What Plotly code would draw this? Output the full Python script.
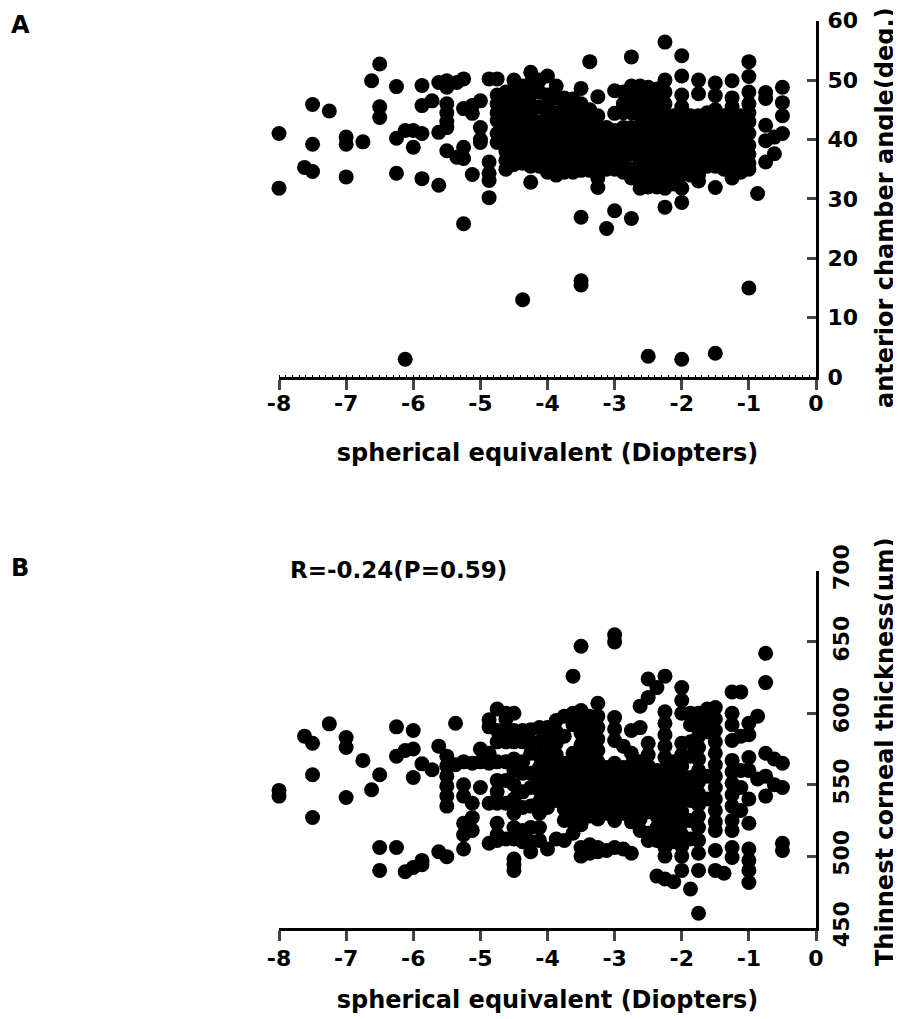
import plotly.graph_objects as go

# Panel A: (spherical equivalent, [anterior chamber angle values])
a_columns = [
    (-8, [41, 31.8]), (-7.62, [35.3]), (-7.5, [45.9, 39.2, 34.6]), (-7.25, [44.8]),
    (-7, [40.4, 39.2, 33.7]), (-6.75, [39.6]), (-6.62, [49.9]), (-6.5, [52.7, 45.5, 43.7]),
    (-6.25, [48.9, 40.2, 34.3]), (-6.12, [41.5, 3]), (-6, [41.5, 38.7]), (-5.87, [49.1, 45.7, 41, 33.4]),
    (-5.72, [46.5]), (-5.62, [49.6, 41.2, 32.3]), (-5.5, [49.9, 48.8, 46, 44.5, 43, 42, 38.1]),
    (-5.35, [49.6, 37]), (-5.25, [50.2, 45.2, 38.7, 36.8, 25.8]), (-5.12, [45.7, 44.4, 34.1]),
    (-5, [46.5, 42, 40, 39.5]), (-4.87, [50.2, 36.2, 34.3, 33.1, 30.2]),
    (-4.75, [50.2, 47.5, 46, 44.5, 43.2, 41, 39.5]),
    (-4.62, [48, 46.5, 45, 43.5, 42, 40.5, 39, 38, 36.5, 35]),
    (-4.5, [50, 48.5, 47, 45, 43, 41.5, 40, 38.5, 37, 35.8]),
    (-4.37, [49, 47, 45, 43.5, 42, 41, 40, 39, 37, 36, 13]),
    (-4.25, [51.3, 49.5, 47.5, 45.5, 44, 42, 41, 40, 39, 38, 36.5, 35.5, 32.8]),
    (-4.12, [50, 48, 45.5, 43, 41.5, 40, 38.5, 37, 35.5]),
    (-4, [50.7, 47.5, 46, 44, 42.5, 41, 40, 39, 38, 37, 35.8, 34.5]),
    (-3.87, [49, 47, 44.5, 43, 41, 40, 38, 36.5, 35, 34]),
    (-3.75, [47, 46, 44, 42, 41, 39.5, 38, 37, 36, 34.5]),
    (-3.62, [46.8, 45, 43, 41.5, 40, 39, 38, 36.5, 35, 34.5]),
    (-3.5, [48.6, 46, 44, 42.5, 41, 39.5, 38, 37, 36, 34.8, 26.9, 16.2, 15.5]),
    (-3.37, [53.1, 45, 43, 41, 40, 38.5, 37, 36, 34.8]),
    (-3.25, [47.2, 44, 42, 40.5, 39, 38, 37, 35.5, 34.5, 33.5, 31.9]),
    (-3.12, [42, 40, 38.5, 37.5, 36, 35, 25]),
    (-3, [48.2, 44.4, 41.5, 40, 39, 37, 35, 28]),
    (-2.87, [48, 46, 44.5, 42, 40.5, 39, 37, 36, 34.5]),
    (-2.75, [53.9, 49, 47.5, 46, 44.5, 42, 40.5, 39, 37.5, 35, 33.5, 26.7]),
    (-2.62, [49, 47.5, 46, 44, 42, 40, 38, 36.5, 34.5, 33, 31.8]),
    (-2.5, [48.8, 47, 45, 43, 41, 39.5, 38, 36, 34, 32, 3.5]),
    (-2.37, [48.5, 47, 45, 43, 41, 39, 37, 35, 33, 32]),
    (-2.25, [56.4, 50, 48, 46, 44, 42, 40.5, 38.5, 36.5, 34.5, 32.5, 31.8, 28.6]),
    (-2.12, [44, 42, 40, 38, 36, 34.5, 32.5]),
    (-2, [54.1, 50.7, 47.5, 45.5, 44, 42, 40, 38, 36, 34, 31.8, 29.4, 3]),
    (-1.87, [44, 42.5, 41, 39, 37, 35.5, 34]),
    (-1.75, [50, 47.7, 44, 43, 41, 39.5, 38, 36, 34, 33]),
    (-1.62, [44.5, 42.5, 40.5, 39, 37, 35.5]),
    (-1.5, [49.5, 47.4, 45, 43, 41, 39, 37, 35.5, 31.9, 4]),
    (-1.37, [44, 42, 40, 38, 36, 35]),
    (-1.25, [49.9, 47, 45.5, 44, 42.5, 41, 39.5, 38, 36, 35, 34, 33.5]),
    (-1.12, [44, 42, 40, 38, 36, 34.5]),
    (-1, [53.1, 50.6, 48, 46, 44.5, 43, 41, 39, 37.5, 36, 35, 15]),
    (-0.87, [30.9]), (-0.75, [47.9, 46.9, 42.4, 39.8, 36.2]), (-0.62, [40.4, 37.6]),
    (-0.5, [48.8, 46.2, 44, 41]),
]

# Panel B: (spherical equivalent, [thinnest corneal thickness values])
b_columns = [
    (-8, [546, 542]), (-7.62, [584]), (-7.5, [579, 557, 527]), (-7.25, [592.6]),
    (-7, [583, 576, 541]), (-6.75, [567]), (-6.62, [546.5]), (-6.5, [557, 506, 490]),
    (-6.25, [590.5, 570, 506]), (-6.12, [574, 489]), (-6, [588, 575, 555, 492]),
    (-5.87, [564.6, 497, 494]), (-5.72, [560.5]), (-5.62, [577, 503]),
    (-5.5, [570, 563, 556, 549, 542, 535, 499.6]), (-5.37, [593, 564]),
    (-5.25, [566, 550, 542, 523, 515, 505]), (-5.12, [565, 537, 527, 518]),
    (-5, [575, 566, 548]),
    (-4.87, [595.5, 590.5, 572, 565, 537, 509]),
    (-4.75, [603, 588, 580, 566, 553, 545, 537, 523, 515, 511]),
    (-4.62, [600, 596, 588, 580, 566, 553, 537, 512]),
    (-4.5, [600, 588, 580, 568, 560, 550, 540, 530, 520, 512, 498, 494, 490]),
    (-4.37, [588, 580, 566, 558, 545, 534, 518, 510]),
    (-4.25, [588.5, 580, 572, 558, 548, 535, 520, 510, 503]),
    (-4.12, [590, 580, 570, 562, 554, 546, 538, 530, 520, 511]),
    (-4, [590, 582, 574, 566, 558, 550, 542, 534, 505]),
    (-3.87, [595, 587, 579, 571, 563, 555, 547, 539, 512]),
    (-3.75, [598, 584, 565, 557, 549, 541, 533, 525, 511]),
    (-3.62, [626, 600, 592, 572, 564, 556, 548, 540, 532, 524, 516]),
    (-3.5, [647, 602, 594, 586, 578, 570, 562, 554, 546, 538, 530, 522, 506, 500]),
    (-3.37, [598, 590, 583, 575, 568, 560, 552, 544, 536, 528, 508, 502]),
    (-3.25, [607, 598, 590, 582, 574, 566, 558, 550, 542, 534, 526, 506, 503]),
    (-3.12, [562, 554, 546, 538, 530, 504]),
    (-3, [655, 650, 597, 589, 581, 565, 557, 549, 541, 533, 525, 506]),
    (-2.87, [577, 562, 554, 546, 538, 530, 505]),
    (-2.75, [588, 572, 564, 556, 548, 540, 532, 524, 502]),
    (-2.62, [605, 590, 566, 558, 550, 542, 534, 526, 518]),
    (-2.5, [624, 611, 579, 571, 563, 555, 547, 539, 531, 516, 511]),
    (-2.37, [618, 560, 552, 544, 536, 528, 520, 511, 486]),
    (-2.25, [626, 601, 593, 585, 577, 569, 561, 553, 545, 537, 529, 521, 513, 506, 500, 484]),
    (-2.12, [566, 558, 550, 542, 534, 526, 518, 510, 482]),
    (-2, [618, 609, 600, 579, 571, 563, 555, 547, 539, 531, 523, 515, 507, 500, 490]),
    (-1.87, [600, 592, 580, 570, 555, 547, 539, 525, 512, 477]),
    (-1.75, [600, 592, 584, 576, 568, 560, 552, 544, 536, 528, 520, 511, 502, 490, 460]),
    (-1.62, [603, 595, 587, 556, 540]),
    (-1.5, [604, 596, 588, 580, 572, 564, 556, 548, 540, 532, 524, 518, 504, 490]),
    (-1.37, [488]),
    (-1.25, [615, 600, 592, 581, 567, 559, 551, 543, 535, 525, 518, 506, 499]),
    (-1.12, [615, 584, 560, 548, 532]),
    (-1, [593, 585, 569, 560, 540, 523, 505, 497, 490, 481.5]),
    (-0.87, [598, 554]),
    (-0.75, [642, 621.5, 572, 556, 542]),
    (-0.62, [568, 550]),
    (-0.5, [565, 548, 509, 504]),
]

x_ticks = [-8, -7, -6, -5, -4, -3, -2, -1, 0]
x_labels = ["-8", "-7", "-6", "-5", "-4", "-3", "-2", "-1", "0"]
a_y_ticks = [0, 10, 20, 30, 40, 50, 60]
b_y_ticks = [450, 500, 550, 600, 650, 700]
x_title = "spherical equivalent (Diopters)"
a_y_title = "anterior chamber angle(deg.)"
b_y_title = "Thinnest corneal thickness(µm)"
b_note = "R=-0.24(P=0.59)"

FONT = "DejaVu Sans"
# The page keeps an 8 px body margin, so the figure fills 893x1011 of the 901x1019 window.
PAGE = 8
W, H = 901 - PAGE, 1019 - PAGE


def fx(px):
    return (px - PAGE) / W


def fy(py):
    return 1 - (py - PAGE) / H


def flat(columns):
    xs, ys = [], []
    for x, vals in columns:
        for v in vals:
            xs.append(x)
            ys.append(v)
    return xs, ys


fig = go.Figure()
for cols, xa, ya in ((a_columns, "x", "y"), (b_columns, "x2", "y2")):
    xs, ys = flat(cols)
    fig.add_trace(go.Scatter(x=xs, y=ys, mode="markers", xaxis=xa, yaxis=ya, cliponaxis=False,
                             marker=dict(color="black", size=15, line=dict(width=0)), showlegend=False))


def xaxis(anchor, minor, standoff, title_standoff):
    d = dict(range=[-8, 0], domain=[fx(279), fx(816)], anchor=anchor, tickmode="array",
             tickvals=x_ticks, ticktext=x_labels, ticks="outside", ticklen=10, tickwidth=3,
             automargin=False, showline=True, linecolor="black", linewidth=3, showgrid=False,
             zeroline=False, tickfont=dict(family=FONT, size=22, color="black", weight="bold"),
             ticklabelstandoff=standoff,
             title=dict(text=x_title, font=dict(family=FONT, size=24, color="black", weight="bold"),
                        standoff=title_standoff))
    if minor:
        d["minor"] = dict(dtick=0.1, ticks="inside", ticklen=2, tickwidth=1, tickcolor="black", showgrid=False)
    return d


def yaxis(anchor, rng, ticks, top, bottom, angle):
    return dict(range=rng, domain=[fy(bottom), fy(top)], anchor=anchor, side="right",
                tickmode="array", tickvals=ticks, ticks="inside", ticklen=9, tickwidth=3,
                automargin=False, showline=True, linecolor="black", linewidth=3, showgrid=False,
                zeroline=False, tickangle=angle, ticklabelstandoff=4,
                tickfont=dict(family=FONT, size=22, color="black", weight="bold"))


fig.update_layout(
    width=W, height=H, autosize=False, margin=dict(l=0, r=0, t=0, b=0),
    paper_bgcolor="white", plot_bgcolor="white",
    xaxis=xaxis("y", True, -5, 29), xaxis2=xaxis("y2", False, -1, 22),
    yaxis=yaxis("x", [0, 60], a_y_ticks, 20.7, 377, 0),
    yaxis2=yaxis("x2", [450, 700], b_y_ticks, 570.5, 927.5, -90),
)


def note(text, x, y, size, angle=0, anchor="center"):
    fig.add_annotation(text=f"<b>{text}</b>", xref="paper", yref="paper",
                       x=fx(x), y=fy(y), showarrow=False, textangle=angle, xanchor=anchor,
                       yanchor="middle", font=dict(family=FONT, size=size, color="black"))


note("A", 20, 25, 24)
note("B", 20, 568, 24)
note(b_note, 288, 570, 23, anchor="left")
note(a_y_title, 885, 208, 24, angle=-90)
note(b_y_title, 885, 752, 24, angle=-90)

fig.write_html("out.html")
